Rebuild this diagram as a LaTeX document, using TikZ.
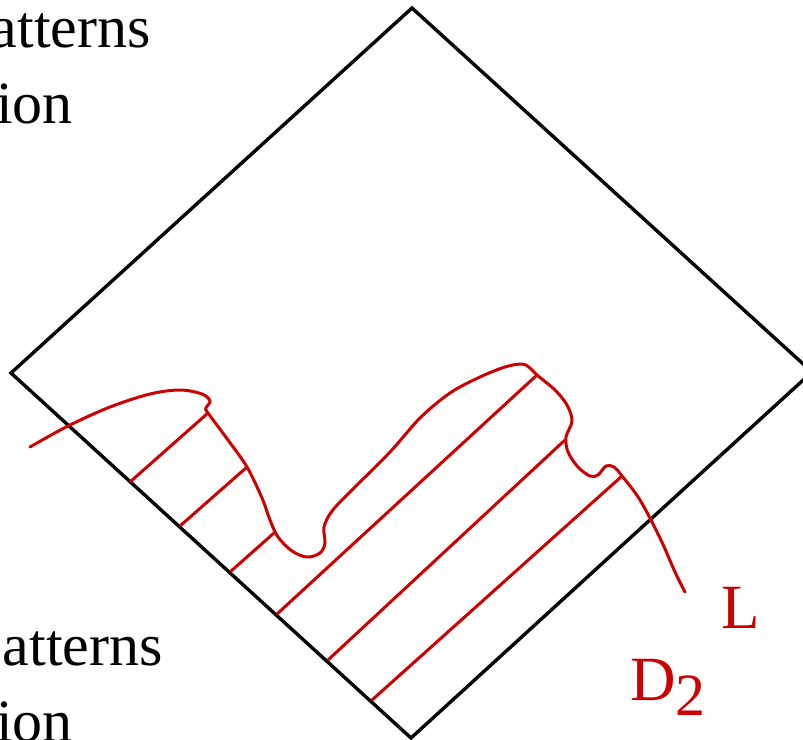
\documentclass[tikz,border=0pt]{standalone}
\usepackage{fontspec}
\setmainfont{Liberation Serif}
\definecolor{lred}{RGB}{204,0,0}
\begin{document}
\begin{tikzpicture}[x=1pt,y=-1pt,
  edge/.style={line width=3.4pt,black,line join=miter},
  redl/.style={line width=3pt,lred,line cap=round,line join=round},
  bigtxt/.style={font=\fontsize{60}{72}\selectfont,inner sep=0pt},
  lbl/.style={font=\fontsize{63}{72}\selectfont,inner sep=0pt,text=lred}]
\useasboundingbox (0,0) rectangle (803,739);
\clip (0,0) rectangle (803,739);
% diamond
\coordinate (T) at (412,8);
\coordinate (Lf) at (11,373);
\coordinate (R) at (812,372);
\coordinate (B) at (411,738);
\draw[edge] (T) -- (Lf) -- (B) -- (R) -- cycle;
% texts
\node[bigtxt,anchor=base east] (t1) at (151,47) {atterns};
\node[bigtxt,anchor=base east] (t2) at (73,123) {ion};
\node[bigtxt,anchor=base east] (t3) at (163,665) {atterns};
\node[bigtxt,anchor=base east] (t4) at (73,741) {ion};
% curve L
\draw[redl] plot[smooth,tension=0.55] coordinates {
 (30,447) (68,426) (110,407) (150,394) (180,390) (202,394) (210,401) (206,408) (208,413)
 (228,440) (247,467) (262,498) (270,520) (278,537) (292,551) (307,557) (320,553)
 (325,543) (324,527) (332,511) (350,492) (390,452) (420,418) (450,393) (480,377)
 (505,367) (522,364) (530,368) (537,375) (555,390) (567,405) (572,421) (566,437)
 (568,452) (578,467) (590,476) (598,475) (606,466) (614,467) (622,476) (640,500)
 (660,538) (675,572) (685,592)};
% hatching lines
\coordinate (a1) at (130,482); \coordinate (b1) at (208,413);
\coordinate (a2) at (180,526); \coordinate (b2) at (247,467);
\coordinate (a3) at (230,572); \coordinate (b3) at (274,533);
\coordinate (a4) at (277,614); \coordinate (b4) at (537,375);
\coordinate (a5) at (328,660); \coordinate (b5) at (565,440);
\coordinate (a6) at (372,700); \coordinate (b6) at (622,476);
\foreach \i in {1,...,6} {\draw[redl,line cap=butt] (a\i) -- (b\i);}
% labels
\node[lbl,anchor=base west] (L) at (721,628) {L};
\node[lbl,anchor=base west] (D) at (630,700) {D\raisebox{-15pt}{\fontsize{60}{64}\selectfont 2}};
\end{tikzpicture}
\end{document}
